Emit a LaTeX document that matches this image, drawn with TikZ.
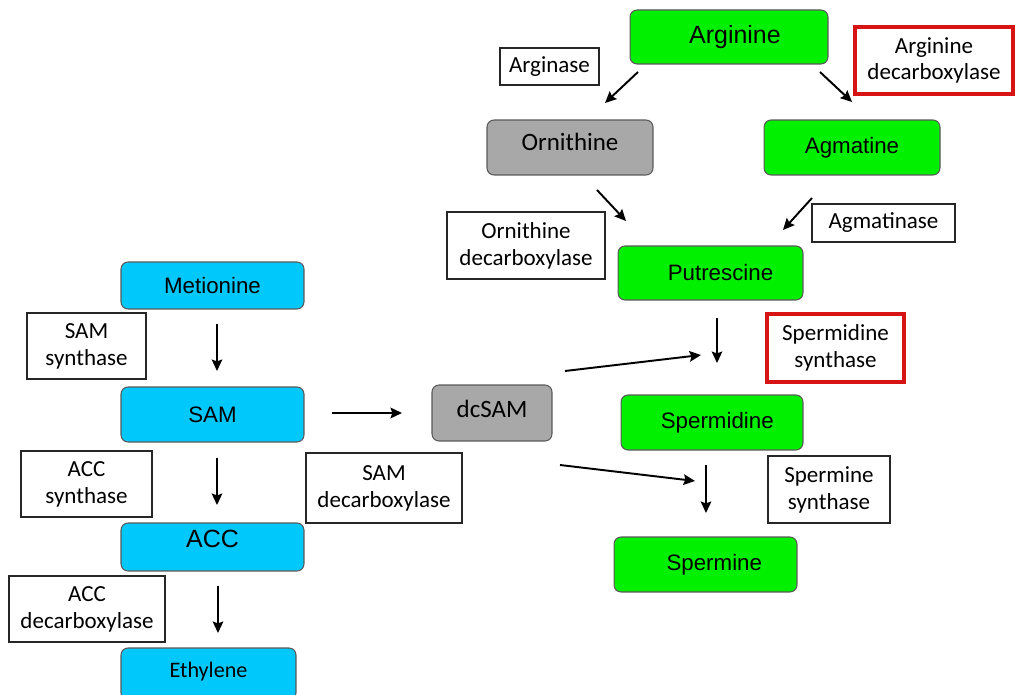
\documentclass[tikz,border=0pt]{standalone}
\usepackage{fontspec}
\setmainfont{Liberation Sans}
\newfontfamily\calib{Carlito}
\usetikzlibrary{arrows.meta,positioning}
\definecolor{limegreen}{RGB}{0,240,0}
\definecolor{skycyan}{RGB}{0,200,250}
\definecolor{boxgray}{RGB}{168,168,168}
\definecolor{enzred}{RGB}{215,20,20}
% shift a label inside its box: x, y, text
\newcommand\nudge[3]{\raisebox{#2}{\kern#1 #3\kern-#1}}

\begin{document}
\begin{tikzpicture}[x=0.02cm, y=-0.02cm,
    metab/.style={draw=black!65, line width=0.6pt, rounded corners=4pt, inner sep=0pt, font=\fontsize{12.7}{15}\selectfont},
    grayab/.style={metab, fill=boxgray, font=\calib\fontsize{14.2}{16}\selectfont},
    enzyme/.style={draw=black!85, line width=0.8pt, inner sep=0pt, align=center, font=\calib\fontsize{13.1}{15.3}\selectfont},
    redenz/.style={enzyme, draw=enzred, line width=1.8pt},
    arr/.style={-{Stealth[length=6.5pt,width=6pt,inset=1pt]}, line width=1.1pt}]
        \useasboundingbox (0,0) rectangle (1016,695);

        % Arginine branch
        \node[metab, fill=limegreen, minimum width=3.96cm, minimum height=1.08cm, font=\fontsize{14.2}{16}\selectfont] (arg) at (729,37) {\nudge{3.4pt}{0pt}{Arginine}};
        \node[enzyme, minimum width=1.98cm, minimum height=0.74cm] (arginase) at (549.5,66.5) {Arginase};
        \node[redenz, minimum width=3.16cm, minimum height=1.34cm] (argdc) at (934,60.5) {Arginine\\decarboxylase};
        \node[grayab, minimum width=3.32cm, minimum height=1.1cm] (orn) at (570,147.5) {\nudge{0pt}{7pt}{Ornithine}};
        \node[metab, fill=limegreen, minimum width=3.52cm, minimum height=1.1cm] (agm) at (852,147.5) {Agmatine};
        \node[enzyme, minimum width=3.16cm, minimum height=1.34cm] (orndc) at (526,245.5) {Ornithine\\decarboxylase};
        \node[enzyme, minimum width=2.86cm, minimum height=0.76cm] (agmase) at (883.5,223) {Agmatinase};

        % Polyamines
        \node[metab, fill=limegreen, minimum width=3.7cm, minimum height=1.08cm] (put) at (710.5,273) {\nudge{5.7pt}{0pt}{Putrescine}};
        \node[redenz, minimum width=2.74cm, minimum height=1.36cm] (spdsyn) at (835.5,348) {Spermidine\\synthase};
        \node[metab, fill=limegreen, minimum width=3.64cm, minimum height=1.1cm] (spd) at (712,422.5) {\nudge{3pt}{0pt}{Spermidine}};
        \node[enzyme, minimum width=2.44cm, minimum height=1.34cm] (spmsyn) at (829,489.5) {Spermine\\synthase};
        \node[metab, fill=limegreen, minimum width=3.66cm, minimum height=1.1cm] (spm) at (705.5,564.5) {\nudge{5pt}{0pt}{Spermine}};

        % dcSAM
        \node[grayab, minimum width=2.4cm, minimum height=1.12cm] (dcsam) at (492,413) {\nudge{0pt}{5pt}{dcSAM}};
        \node[enzyme, minimum width=3.12cm, minimum height=1.4cm] (samdc) at (384,488) {SAM\\decarboxylase};

        % Ethylene branch
        \node[metab, fill=skycyan, minimum width=3.66cm, minimum height=0.94cm] (met) at (212.5,285.5) {Metionine};
        \node[enzyme, minimum width=2.38cm, minimum height=1.32cm] (samsyn) at (86.5,346) {SAM\\synthase};
        \node[metab, fill=skycyan, minimum width=3.66cm, minimum height=1.1cm] (sam) at (212.5,414.5) {SAM};
        \node[enzyme, minimum width=2.62cm, minimum height=1.32cm] (accsyn) at (86.5,484) {ACC\\synthase};
        \node[metab, fill=skycyan, minimum width=3.66cm, minimum height=0.96cm, font=\fontsize{14.2}{16}\selectfont] (acc) at (212.5,547) {\nudge{0pt}{9pt}{ACC}};
        \node[metab, fill=skycyan, minimum width=3.5cm, minimum height=1.04cm, font=\calib\fontsize{12.6}{14}\selectfont] (eth) at (208.5,674) {\nudge{0pt}{5pt}{Ethylene}};
        \node[enzyme, minimum width=3.12cm, minimum height=1.32cm] (accdc) at (87,609) {ACC\\decarboxylase};

        % Arrow ends
        \coordinate (argL) at (638,72);   \coordinate (ornT) at (605,103);
        \coordinate (argR) at (820,72);   \coordinate (agmT) at (852,102);
        \coordinate (ornB) at (597,190);  \coordinate (putL) at (626,221);
        \coordinate (agmB) at (812,198);  \coordinate (putR) at (783,230);
        \coordinate (putB) at (717,318);  \coordinate (spdT) at (717,363);
        \coordinate (dcsU) at (565,371);  \coordinate (spdM) at (701,355);
        \coordinate (spdB) at (706,465);  \coordinate (spmT) at (706,513);
        \coordinate (dcsD) at (560,465);  \coordinate (spmM) at (695,481);
        \coordinate (samR) at (332,413);  \coordinate (dcsL) at (402,413);
        \coordinate (metB) at (217,324);  \coordinate (samT) at (217,371);
        \coordinate (samB) at (217,458);  \coordinate (accT) at (217,505);
        \coordinate (accB) at (218,586);  \coordinate (ethT) at (218,633);

        % Arrows
        \draw[arr] (argL) -- (ornT);
        \draw[arr] (argR) -- (agmT);
        \draw[arr] (ornB) -- (putL);
        \draw[arr] (agmB) -- (putR);
        \draw[arr] (putB) -- (spdT);
        \draw[arr] (dcsU) -- (spdM);
        \draw[arr] (spdB) -- (spmT);
        \draw[arr] (dcsD) -- (spmM);
        \draw[arr, line width=1.7pt] (samR) -- (dcsL);
        \draw[arr] (metB) -- (samT);
        \draw[arr] (samB) -- (accT);
        \draw[arr] (accB) -- (ethT);
\end{tikzpicture}
\end{document}
